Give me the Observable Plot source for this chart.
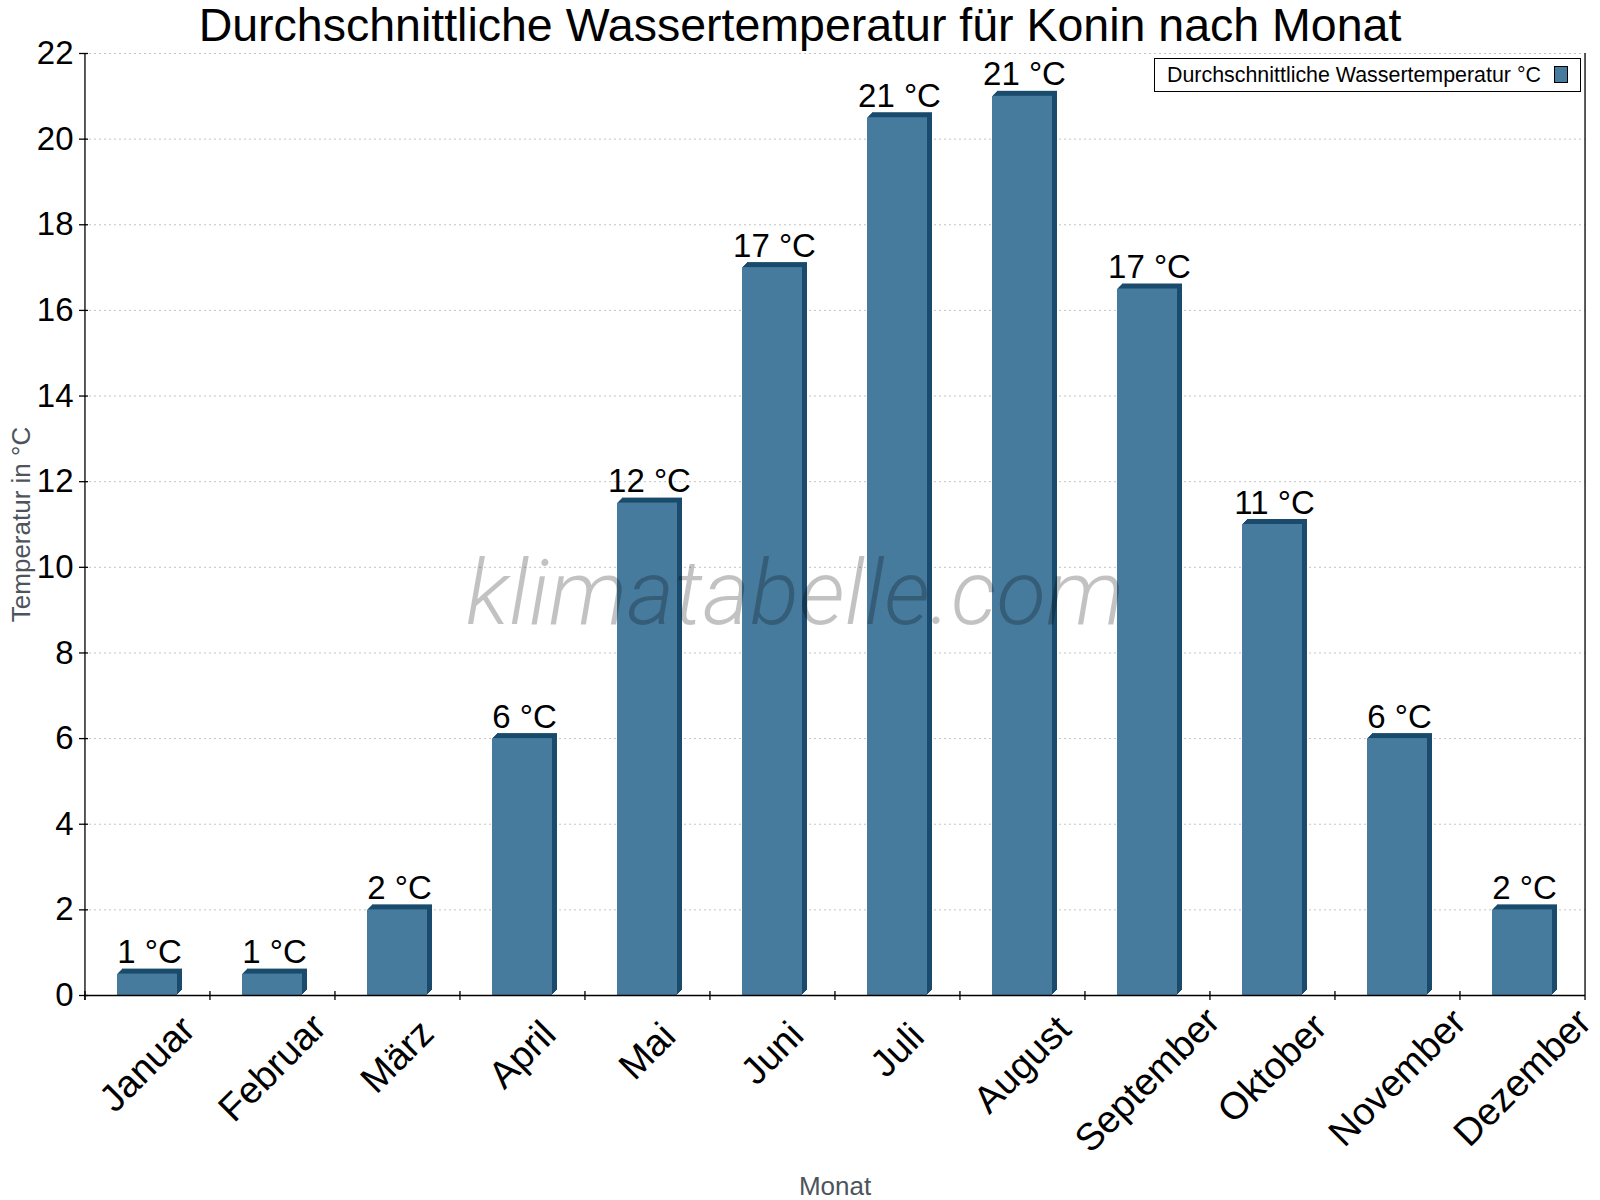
<!DOCTYPE html>
<html>
<head>
<meta charset="utf-8">
<script src="https://cdn.jsdelivr.net/npm/d3@7"></script>
<script src="https://cdn.jsdelivr.net/npm/@observablehq/plot@0.6"></script>
<style>
  body { margin: 0; background: #fff; font-family: "Liberation Sans", Arial, sans-serif; }
  #wrap { position: relative; width: 1600px; height: 1200px; overflow: hidden; }
  #title { position: relative; height: 46px; }
  #title span { position: absolute; left: 0; right: 0; top: 2px; line-height: 46px; font-size: 46.5px; text-align: center; color: #000; white-space: nowrap; }
  #chart svg { display: block; }
  #legend { position: absolute; left: 1154px; top: 58px; width: 425px; height: 32px; border: 1.5px solid #000; background: #fff; box-sizing: content-box; }
  #legend .lt { position: absolute; left: 12px; top: 0; line-height: 32px; font-size: 21.4px; color: #000; white-space: nowrap; }
  #legend .sw { position: absolute; left: 399px; top: 7px; width: 12px; height: 15px; border: 1.3px solid #000; }
</style>
</head>
<body>
<div id="wrap">
  <div id="title"><span></span></div>
  <div id="chart"></div>
  <div id="legend"><span class="lt"></span><span class="sw"></span></div>
</div>
<script>
// ---- data ----
const months = ["Januar","Februar","März","April","Mai","Juni","Juli","August","September","Oktober","November","Dezember"];
const waterTemp = [0.5, 0.5, 2, 6, 11.5, 17, 20.5, 21, 16.5, 11, 6, 2];
const tempLabels = [1, 1, 2, 6, 12, 17, 21, 21, 17, 11, 6, 2];
const yTicks = [0, 2, 4, 6, 8, 10, 12, 14, 16, 18, 20, 22];
const titleText = "Durchschnittliche Wassertemperatur für Konin nach Monat";
const seriesName = "Durchschnittliche Wassertemperatur °C";
const xTitle = "Monat";
const yTitle = "Temperatur in °C";
const watermark = "klimatabelle.com";

const data = months.map((m, i) => ({month: m, temp: waterTemp[i], label: `${tempLabels[i]} °C`}));
const gridTicks = yTicks.filter(d => d > 0);

const front = "#467b9e", side = "#1a4b6c";
const W = 1600, H = 1154, mL = 84, mR = 15, mT = 7, mB = 205;
const step = (W - mL - mR) / months.length;
const depth = [5, 4, 3, 2, 1];

document.querySelector("#title span").textContent = titleText;
document.querySelector("#legend .lt").textContent = seriesName;
document.querySelector("#legend .sw").style.background = front;

const plot = Plot.plot({
  width: W, height: H,
  marginLeft: mL, marginRight: mR, marginTop: mT, marginBottom: mB,
  style: {fontFamily: '"Liberation Sans", Arial, sans-serif', background: "#fff", overflow: "visible", color: "#000"},
  x: {type: "band", domain: months, paddingInner: 0.52, paddingOuter: 0.26, axis: null},
  y: {domain: [0, 22], axis: null},
  marks: [
    Plot.ruleY(gridTicks, {stroke: "#c4c4c4", strokeDasharray: "2,3", strokeWidth: 1}),
    ...depth.map(k => Plot.barY(data, {x: "month", y: "temp", fill: side, dx: k, dy: -k})),
    Plot.barY(data, {x: "month", y: "temp", fill: front}),
    Plot.text([watermark], {frameAnchor: "middle", textAnchor: "middle", dx: -40, dy: 99, lineAnchor: "bottom", fontSize: 91,
      fontStyle: "italic", fontWeight: 300, fontFamily: "Roboto", fill: "#000", fillOpacity: 0.24}),
    Plot.text(data, {x: "month", y: "temp", text: "label", dx: 2, dy: -11, lineAnchor: "bottom", fontSize: 33, fill: "#000"}),
    Plot.ruleY([0], {stroke: "#000", strokeWidth: 1.3}),
    Plot.ruleX([months[0]], {x: d => d, y1: 22, y2: 0, dx: -step / 2, insetBottom: -5, stroke: "#000", strokeWidth: 1.3}),
    Plot.ruleX([months[months.length - 1]], {x: d => d, y1: 22, y2: 0, dx: step / 2, insetBottom: -5, stroke: "#000", strokeWidth: 1.3}),
    Plot.ruleX(months, {x: d => d, y1: 0, y2: 0, dx: -step / 2, insetTop: -4, insetBottom: -5, stroke: "#000", strokeWidth: 1.3}),
    Plot.axisY(yTicks, {label: null, tickSize: 9, dx: 4, tickPadding: 6, fontSize: 33, stroke: "#000", fill: "#000", strokeWidth: 1.3}),
    Plot.text(months, {x: d => d, text: d => d, frameAnchor: "bottom", rotate: -45, textAnchor: "middle",
      lineAnchor: "middle", fontSize: 38, fill: "#000", className: "xlab"}),
    Plot.text([yTitle], {frameAnchor: "left", textAnchor: "middle", rotate: -90, dx: -63, lineAnchor: "middle", fontSize: 26, fill: "#4d545c"}),
    Plot.text([xTitle], {frameAnchor: "bottom", textAnchor: "middle", dx: 0, dy: 199, lineAnchor: "bottom", fontSize: 26, fill: "#4d545c"})
  ]
});

document.getElementById("chart").append(plot);

// place rotated month labels like the reference (centred on band, hanging below the axis)
plot.querySelectorAll("g.xlab text").forEach(t => {
  const w = t.getComputedTextLength();
  const shift = 42 + 0.23 * w;
  t.setAttribute("transform", `translate(0,${shift.toFixed(1)}) ` + (t.getAttribute("transform") || ""));
});
</script>
</body>
</html>
